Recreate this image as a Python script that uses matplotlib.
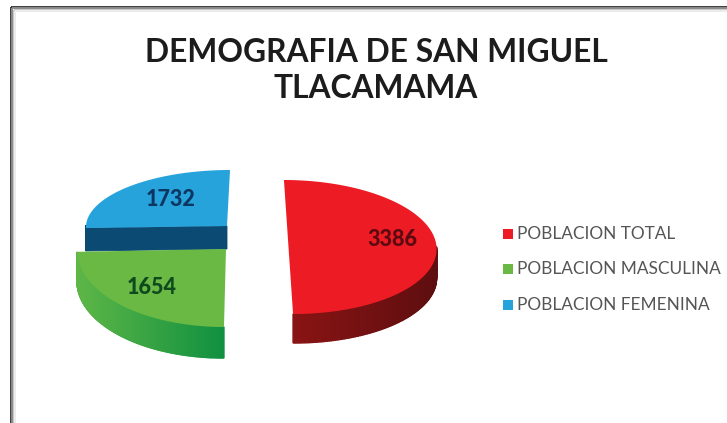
import numpy as np
import matplotlib
matplotlib.use("Agg")
import matplotlib.pyplot as plt
from matplotlib.colors import to_rgb
from matplotlib.patches import Rectangle

categories = ["POBLACION TOTAL", "POBLACION MASCULINA", "POBLACION FEMENINA"]
values = [3386, 1654, 1732]
title_lines = ["DEMOGRAFIA DE SAN MIGUEL", "TLACAMAMA"]

# look of each slice, the pie is faked in 3D by hand
face_colors = ["#ed1c24", "#69b944", "#27a3dc"]
side_left = ["#8c1414", "#5db646", "#0b4a72"]
side_right = ["#5e0e10", "#109040", "#0b4a72"]
label_colors = ["#5c0a10", "#0f4a1f", "#0c3763"]
centers = [(288.5, 247), (226, 249), (227, 226)]
radii = [(148, 67), (149, 78), (141, 56)]
shears = [0.068, -0.026, -0.054]
depths = [29, 31, 23]
label_pos = [(392, 239), (152, 287), (171, 200)]
legend_y = [234, 269, 305]


def mix(c1, c2, t):
    c1, c2 = np.array(to_rgb(c1)), np.array(to_rgb(c2))
    return tuple(c1 + (c2 - c1) * t)


def slice_outline(i, a0, a1):
    # top face of one slice, points along the arc
    cx, cy = centers[i]
    rx, ry = radii[i]
    t = np.radians(np.linspace(a0, a1, 240))
    y = -ry * np.sin(t)
    x = rx * np.cos(t) + shears[i] * y
    return cx + x, cy + y


fig = plt.figure(figsize=(7.27, 4.23), dpi=100)
ax = fig.add_axes([0, 0, 1, 1])
ax.set_xlim(0, 727)
ax.set_ylim(423, 0)
ax.axis("off")

# frame of the screenshot
for k, g in enumerate(["#3c3c3c", "#8a8a8a", "#c8c8c8", "#ececec"]):
    ax.plot([11 + k * 1.4, 11 + k * 1.4], [423, 7 + k * 1.4], color=g, lw=1.4, solid_capstyle="butt")
    ax.plot([11 + k * 1.4, 727], [7 + k * 1.4, 7 + k * 1.4], color=g, lw=1.4, solid_capstyle="butt")

angles = 90 - np.cumsum([0] + values) / sum(values) * 360

# blue goes first, green sits on top of its dark band
for i in [2, 1, 0]:
    xs, ys = slice_outline(i, angles[i], angles[i + 1])
    cx, cy = centers[i]
    d = depths[i]
    xmin, xmax = xs.min(), xs.max()
    # extruded wall, only the front part of the arc can be seen
    for j in range(len(xs) - 1):
        if ys[j] < cy - 1 or ys[j + 1] < cy - 1:
            continue
        c = mix(side_left[i], side_right[i], (0.5 * (xs[j] + xs[j + 1]) - xmin) / (xmax - xmin))
        ax.fill([xs[j], xs[j + 1], xs[j + 1], xs[j]],
                [ys[j], ys[j + 1], ys[j + 1] + d, ys[j] + d],
                color=c, lw=1, zorder=2 + (2 - i))
    if i == 2:
        # flat cut side of the blue slice
        ax.fill([xs[0], cx, cx, xs[0]], [ys[0], cy, cy + d, ys[0] + d],
                color=side_left[i], lw=0.6, zorder=2)
    px = np.r_[cx, xs]
    py = np.r_[cy, ys]
    ax.fill(px, py, color=face_colors[i], lw=0, zorder=3 + (2 - i))
    ax.text(label_pos[i][0], label_pos[i][1], str(values[i]), color=label_colors[i],
            fontsize=15.5, fontweight="black", family="Lato", ha="center", va="center", zorder=10)

for i, line in enumerate(title_lines):
    ax.text(376, [53, 89][i], line, fontsize=22.9, fontweight="bold", family="Lato",
            color="#1c1c1c", ha="center", va="center")

for i, name in enumerate(categories):
    ax.add_patch(Rectangle((503, legend_y[i] - 5), 10, 10, color=face_colors[i], lw=0))
    ax.text(517, legend_y[i], name, fontsize=12.4, family="Lato", color="#555555", va="center")

fig.savefig("out.png", dpi=100)
